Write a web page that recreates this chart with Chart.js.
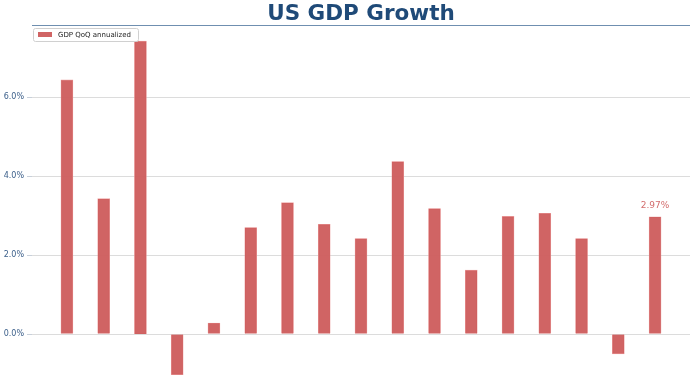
<!DOCTYPE html>
<html>
<head>
<meta charset="utf-8">
<script src="https://cdn.jsdelivr.net/npm/chart.js@4.4.1/dist/chart.umd.min.js"></script>
<style>
  html, body { margin: 0; padding: 0; background: #fff; }
  #wrap { width: 696px; height: 385px; }
</style>
</head>
<body>
<div id="wrap"><canvas id="myChart"></canvas></div>
<script>
// Quarters shown (x axis is hidden in the original)
const quarters = ['2021Q2', '2021Q3', '2021Q4', '2022Q1', '2022Q2', '2022Q3', '2022Q4', '2023Q1', '2023Q2',
                  '2023Q3', '2023Q4', '2024Q1', '2024Q2', '2024Q3', '2024Q4', '2025Q1', '2025Q2'];
// GDP QoQ annualized, %
const gdpGrowth = [6.44, 3.43, 7.42, -1.03, 0.28, 2.70, 3.33, 2.78, 2.42, 4.37, 3.18, 1.62, 2.98, 3.06, 2.42, -0.50, 2.97];
const yTicks = [0, 2, 4, 6];

const barColor = 'rgba(205, 92, 92, 0.95)';

// line under the title (top edge of plot area)
const topLine = {
    id: 'topLine',
    afterDraw(chart) {
        const { ctx, chartArea } = chart;
        ctx.save();
        ctx.strokeStyle = '#6f8fb0';
        ctx.lineWidth = 1.2;
        ctx.beginPath();
        ctx.moveTo(chartArea.left, chartArea.top + 0.5);
        ctx.lineTo(chartArea.right, chartArea.top + 0.5);
        ctx.stroke();
        ctx.restore();
    }
};

// legend box in top-left corner
const cornerLegend = {
    id: 'cornerLegend',
    afterDraw(chart) {
        const { ctx, chartArea } = chart;
        const x = chartArea.left + 1, y = chartArea.top + 3;
        ctx.save();
        ctx.font = '7px "DejaVu Sans"';
        const label = chart.data.datasets[0].label;
        const w = 26 + ctx.measureText(label).width + 6;
        ctx.fillStyle = 'rgba(255,255,255,0.85)';
        ctx.strokeStyle = '#d0d0d0';
        ctx.lineWidth = 1;
        ctx.beginPath();
        ctx.roundRect(x + 0.5, y + 0.5, w, 13, 2);
        ctx.fill();
        ctx.stroke();
        ctx.fillStyle = barColor;
        ctx.fillRect(x + 5, y + 4, 14, 5);
        ctx.fillStyle = '#222';
        ctx.textBaseline = 'middle';
        ctx.fillText(label, x + 25, y + 7);
        ctx.restore();
    }
};

// value label over the latest bar
const lastLabel = {
    id: 'lastLabel',
    afterDatasetsDraw(chart) {
        const { ctx } = chart;
        const meta = chart.getDatasetMeta(0);
        const i = gdpGrowth.length - 1;
        const bar = meta.data[i];
        ctx.save();
        ctx.font = '9px "DejaVu Sans"';
        ctx.fillStyle = 'rgba(205, 92, 92, 0.9)';
        ctx.textAlign = 'center';
        ctx.textBaseline = 'bottom';
        ctx.fillText(gdpGrowth[i].toFixed(2) + '%', bar.x, bar.y - 7);
        ctx.restore();
    }
};

const ctx = document.getElementById('myChart').getContext('2d');
new Chart(ctx, {
    type: 'bar',
    data: {
        datasets: [{
            label: 'GDP QoQ annualized',
            data: gdpGrowth.map((v, i) => ({ x: i, y: v, q: quarters[i] })),
            backgroundColor: barColor,
            borderColor: 'rgba(235, 150, 150, 0.9)',
            borderWidth: 0.6,
            barThickness: 12
        }]
    },
    options: {
        responsive: true,
        maintainAspectRatio: false,
        animation: false,
        layout: { padding: { left: 0, right: 6, top: 0, bottom: 0 } },
        plugins: {
            legend: { display: false },
            tooltip: { enabled: false },
            title: {
                display: true,
                text: 'US GDP Growth',
                fullSize: false,
                color: '#1f4a78',
                font: { family: 'DejaVu Sans', size: 21.5, weight: 'bold', lineHeight: 1 },
                padding: { top: 3.5, bottom: 0 }
            }
        },
        scales: {
            x: {
                type: 'linear',
                display: false,
                offset: false,
                min: -0.95,
                max: quarters.length - 1 + 0.95
            },
            y: {
                min: -1.29,
                max: 7.83,
                afterBuildTicks: axis => { axis.ticks = yTicks.map(v => ({ value: v })); },
                afterFit: axis => { axis.width = 32; axis.paddingTop = 0; axis.paddingBottom = 0; },
                border: { display: false },
                grid: { color: '#dcdcdc', tickLength: 5, tickColor: '#c8d0da' },
                ticks: {
                    color: '#3b5f8a',
                    padding: 3,
                    font: { family: 'DejaVu Sans', size: 8 },
                    callback: v => v.toFixed(1) + '%'
                }
            }
        }
    },
    plugins: [topLine, cornerLegend, lastLabel]
});
</script>
</body>
</html>
